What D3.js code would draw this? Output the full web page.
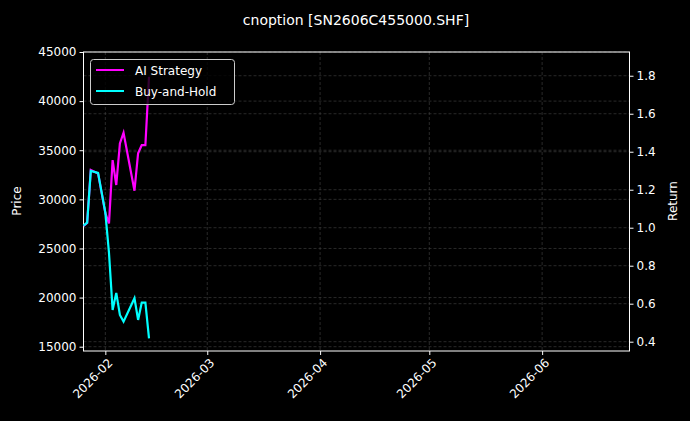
<!DOCTYPE html><html><head><meta charset="utf-8">
<script src="https://cdn.jsdelivr.net/npm/d3@7"></script>
<style>body{margin:0;background:#000}svg{display:block}text{font-family:"DejaVu Sans",sans-serif}</style>
</head><body><svg id="c" width="690" height="421"></svg>
<script>
const dates=["2026-01-26","2026-01-27","2026-01-28","2026-01-30","2026-02-01","2026-02-02","2026-02-03","2026-02-04","2026-02-05","2026-02-06","2026-02-09","2026-02-10","2026-02-11","2026-02-12","2026-02-13"];
const buyHoldPrice=[27316,27622,32888,32694,28643,24561,18745,20480,18235,17551,19939,17724,19490,19490,15857];
const aiReturn=[1.009,1.025,1.304,1.286,1.077,1.023,1.356,1.225,1.444,1.5,1.195,1.392,1.435,1.435,1.795];
const priceTicks=[15000,20000,25000,30000,35000,40000,45000];
const returnTicks=[0.4,0.6,0.8,1.0,1.2,1.4,1.6,1.8];
const monthTicks=["2026-02-01","2026-03-01","2026-04-01","2026-05-01","2026-06-01"];
const W=690,H=421,L=83.5,R=629.5,T=52,B=351;
const svg=d3.select("#c");
svg.append("rect").attr("width",W).attr("height",H).attr("fill","#000");
const p=d3.timeParse("%Y-%m-%d");
const x=d3.scaleTime().domain([p("2026-01-26"),p("2026-06-25")]).range([L,R]);
const yL=d3.scaleLinear().domain([14561,45000]).range([B,T]);
const yR=d3.scaleLinear().domain([0.351,1.925]).range([B,T]);
const g=svg.append("g").attr("stroke","#444").attr("stroke-dasharray","3,2").attr("stroke-width",0.6);
priceTicks.forEach(v=>g.append("line").attr("x1",L).attr("x2",R).attr("y1",yL(v)).attr("y2",yL(v)));
returnTicks.forEach(v=>g.append("line").attr("x1",L).attr("x2",R).attr("y1",yR(v)).attr("y2",yR(v)));
monthTicks.forEach(v=>g.append("line").attr("y1",T).attr("y2",B).attr("x1",x(p(v))).attr("x2",x(p(v))));
const ax=svg.append("g").attr("transform",`translate(0,${B})`).call(d3.axisBottom(x).tickValues(monthTicks.map(p)).tickFormat(d3.timeFormat("%Y-%m")).tickSize(4));
ax.selectAll("text").attr("transform","rotate(-45)").style("text-anchor","end").attr("dx","-0.3em").attr("dy","0.6em");
const al=svg.append("g").attr("transform",`translate(${L},0)`).call(d3.axisLeft(yL).tickValues(priceTicks).tickFormat(d3.format("d")).tickSize(4));
const ar=svg.append("g").attr("transform",`translate(${R},0)`).call(d3.axisRight(yR).tickValues(returnTicks).tickFormat(d3.format(".1f")).tickSize(4));
[ax,al,ar].forEach(a=>{a.selectAll("text").attr("fill","#fff").style("font-size","12px");a.selectAll("line").attr("stroke","#fff");a.select(".domain").remove();});
svg.append("rect").attr("x",L).attr("y",T).attr("width",R-L).attr("height",B-T).attr("fill","none").attr("stroke","#fff").attr("stroke-width",1);
const ln=(ys,arr)=>d3.line().x((d,i)=>x(p(dates[i]))).y(d=>ys(d))(arr);
svg.append("path").attr("d",ln(yR,aiReturn)).attr("fill","none").attr("stroke","#ff00ff").attr("stroke-width",2.2);
svg.append("path").attr("d",ln(yL,buyHoldPrice)).attr("fill","none").attr("stroke","#00ffff").attr("stroke-width",2.2);
svg.append("text").attr("x",356).attr("y",25).attr("text-anchor","middle").attr("fill","#fff").style("font-size","14px").text("cnoption [SN2606C455000.SHF]");
svg.append("text").attr("transform","translate(21,201) rotate(-90)").attr("text-anchor","middle").attr("fill","#fff").style("font-size","12px").text("Price");
svg.append("text").attr("transform","translate(677,201) rotate(-90)").attr("text-anchor","middle").attr("fill","#fff").style("font-size","12px").text("Return");
const lg=svg.append("g");
lg.append("rect").attr("x",90.5).attr("y",59.5).attr("width",144).attr("height",45).attr("rx",3).attr("fill","#000").attr("fill-opacity",0.8).attr("stroke","#ccc");
[["AI Strategy","#ff00ff",70],["Buy-and-Hold","#00ffff",91]].forEach(([t,c,y])=>{
lg.append("line").attr("x1",96).attr("x2",124).attr("y1",y).attr("y2",y).attr("stroke",c).attr("stroke-width",2);
lg.append("text").attr("x",135).attr("y",y+4.5).attr("fill","#fff").style("font-size","12px").text(t);});
</script></body></html>
